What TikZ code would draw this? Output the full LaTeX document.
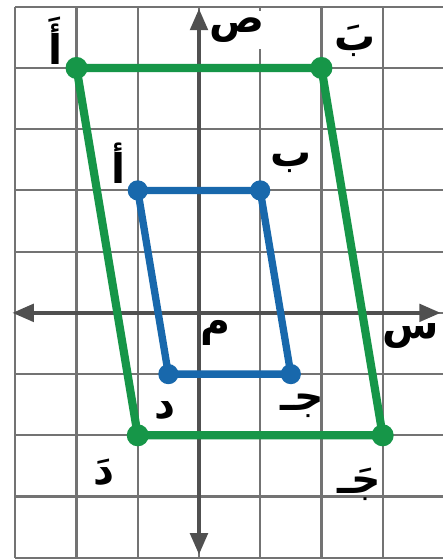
\documentclass[tikz,border=0pt]{standalone}
\usepackage{fontspec}
\usepackage{xcolor}
\usetikzlibrary{arrows.meta}
\TeXXeTstate=1
\newfontfamily\arabicfont[Script=Arabic]{DejaVu Sans}
\definecolor{GridGray}{RGB}{115,115,115}
\definecolor{AxisGray}{RGB}{80,80,80}
\definecolor{ImgGreen}{RGB}{22,150,72}
\definecolor{PreBlue}{RGB}{24,104,172}

\begin{document}
\begin{tikzpicture}[x=1cm, y=1cm,
    lbl/.style={font=\arabicfont\bfseries\fontsize{19}{19}\selectfont, inner sep=1pt},
    ptdot/.style={circle, fill, inner sep=0pt, minimum size=0.36cm}]

  % --- Frame ---
  \useasboundingbox (-3.25,-4.02) rectangle (3.97,5.11);
  \fill[white] (-3.25,-4.02) rectangle (3.97,5.11);

  % --- Grid ---
  \draw[GridGray, line width=1pt] (-3,-4) grid (4,5);

  % --- Axis labels (white behind, cover grid) ---
  \node[lbl, fill=white, inner sep=3pt] (ylbl) at (0.62,4.62) {\beginR ص\endR};
  \node[lbl] (xlbl) at (3.45,-0.38) {\beginR س\endR};

  % --- Axes ---
  \draw[AxisGray, line width=2pt, {Triangle[length=10pt,width=8pt]}-{Triangle[length=10pt,width=8pt]}]
    (-3.05,0) -- (3.95,0);
  \draw[AxisGray, line width=2pt, {Triangle[length=10pt,width=8pt]}-{Triangle[length=10pt,width=8pt]}]
    (0,-3.95) -- (0,4.97);

  % --- Vertices: pre-image ABCD, image A'B'C'D' (scale factor 2) ---
  \coordinate (A) at (-1,2);
  \coordinate (B) at (1,2);
  \coordinate (C) at (1.5,-1);
  \coordinate (D) at (-0.5,-1);
  \coordinate (A2) at (-2,4);
  \coordinate (B2) at (2,4);
  \coordinate (C2) at (3,-2);
  \coordinate (D2) at (-1,-2);

  % --- Image (green) ---
  \draw[ImgGreen, line width=3.8pt, line join=round] (A2) -- (B2) -- (C2) -- (D2) -- cycle;
  \foreach \p in {A2,B2,C2,D2}
    \node[ptdot, ImgGreen] (dot\p) at (\p) {};

  % --- Pre-image (blue) ---
  \draw[PreBlue, line width=3.4pt, line join=round] (A) -- (B) -- (C) -- (D) -- cycle;
  \foreach \p in {A,B,C,D}
    \node[ptdot, PreBlue, minimum size=0.33cm] (dot\p) at (\p) {};

  % --- Labels ---
  \node[lbl] (lblA2) at (-2.35,4.45) {\beginR أَ\endR};
  \node[lbl] (lblB2) at (2.55,4.45) {\beginR بَ\endR};
  \node[lbl] (lblA)  at (-1.32,2.45) {\beginR أ\endR};
  \node[lbl] (lblB)  at (1.5,2.45) {\beginR ب\endR};
  \node[lbl] (lblO)  at (0.27,-0.33) {\beginR م\endR};
  \node[lbl] (lblD)  at (-0.55,-1.6) {\beginR د\endR};
  \node[lbl] (lblC)  at (1.68,-1.52) {\beginR جـ\endR};
  \node[lbl] (lblD2) at (-1.55,-2.6) {\beginR دَ\endR};
  \node[lbl] (lblC2) at (2.62,-2.8) {\beginR جَـ\endR};

\end{tikzpicture}
\end{document}
